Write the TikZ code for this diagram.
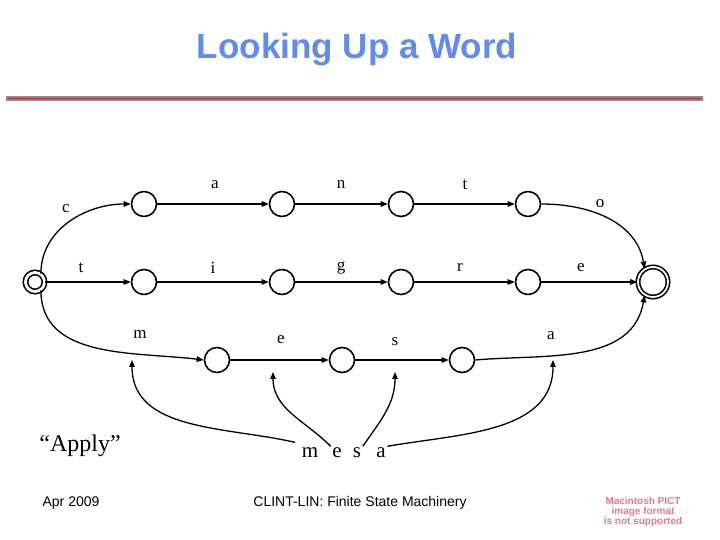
\documentclass[tikz,border=0pt]{standalone}
\usepackage{fontspec}
\setmainfont{Liberation Serif}
\setsansfont{Liberation Sans}
\usetikzlibrary{arrows.meta}
\definecolor{titleblue}{RGB}{98,139,236}
\definecolor{rulegray}{RGB}{150,135,135}
\definecolor{rulered}{RGB}{170,40,75}
\definecolor{pictred}{RGB}{225,120,130}

\begin{document}
\begin{tikzpicture}[x=1pt,y=1pt,>={Triangle[length=7pt,width=5.5pt]},line width=1.3pt,
  st/.style={draw,circle,minimum size=25pt,inner sep=0pt,line width=1.6pt},
  fin/.style={draw,circle,double,inner sep=0pt,line width=1.6pt},
  lb/.style={font=\fontsize{17}{19}\selectfont,inner sep=1pt},
  ms/.style={font=\fontsize{21}{23}\selectfont,inner sep=1pt},
  ft/.style={font=\sffamily\fontsize{14}{16}\selectfont}]
  \useasboundingbox (0,0) rectangle (720,540);
  % titre
  \node[font=\sffamily\bfseries\fontsize{35}{38}\selectfont,text=titleblue] (title) at (357,490) {Looking Up a Word};
  \draw[rulegray,line width=5pt] (6,441) -- (703,441);
  \draw[rulered,line width=1pt] (8,441) -- (701,441);
  % etats
  \node[fin,minimum size=19pt,double distance=2.8pt] (s0) at (35,258) {};
  \node[st] (q1) at (144,336) {};
  \node[st] (q2) at (282,336) {};
  \node[st] (q3) at (401,336) {};
  \node[st] (q4) at (528,336) {};
  \node[st] (m1) at (144,258) {};
  \node[st] (m2) at (282,258) {};
  \node[st] (m3) at (401,258) {};
  \node[st] (m4) at (528,258) {};
  \node[st] (r1) at (217,180) {};
  \node[st] (r2) at (342,180) {};
  \node[st] (r3) at (462,180) {};
  \node[fin,minimum size=30pt,double distance=1.8pt] (f) at (653,258) {};
  % transitions
  \foreach \u/\v in {q1/q2,q2/q3,q3/q4,s0/m1,m1/m2,m2/m3,m3/m4,m4/f,r1/r2,r2/r3}
    \draw[->] (\u) -- (\v);
  \draw[->] (s0.55) to[out=90,in=180] (q1.west);
  \draw[->] (s0.-55) to[out=-90,in=173] (r1.west);
  \draw[->] (q4.east) to[out=0,in=100] (f.122);
  \draw[->] (r3.east) to[out=5,in=-100] (f.238);
  % etiquettes
  \foreach \n/\p/\t in {lc/{66,331}/c,lt/{81,272}/t,la/{215,355}/a,ln/{341,355}/n,lt2/{465,355}/t,
    lo/{600,336}/o,li/{213,272}/i,lg/{341,272}/g,lr/{460,272}/r,le/{581,272}/e,
    lm/{140,205}/m,le2/{281,200}/e,ls/{395,198}/s,la2/{551,204}/a}
    \node[lb] (\n) at (\p) {\t};
  % mesa
  \node[font=\fontsize{24}{26}\selectfont] (apply) at (80,94) {``Apply''};
  \node[ms] (wm) at (310,87) {m};
  \node[ms] (we) at (337,87) {e};
  \node[ms] (ws) at (357,87) {s};
  \node[ms] (wa) at (381,87) {a};
  \coordinate (pm) at (132,180);
  \coordinate (pe) at (273,168);
  \coordinate (ps) at (395,168);
  \coordinate (pa) at (553,180);
  \draw[->] ([shift={(-5,4)}]wm.north west) to[out=167,in=-90] (pm);
  \draw[->] (we.north west) to[out=135,in=-90] (pe);
  \draw[->] (ws.north east) to[out=55,in=-90] (ps);
  \draw[->] (wa.north east) to[out=10,in=-90] (pa);
  % pied de page
  \node[ft] (date) at (71,37) {Apr 2009};
  \node[ft] (foot) at (360,37) {CLINT-LIN: Finite State Machinery};
  \node[font=\sffamily\bfseries\fontsize{10}{10}\selectfont,text=pictred,align=center] (pict) at (643,28)
    {Macintosh PICT\\image format\\is not supported};
\end{tikzpicture}
\end{document}
